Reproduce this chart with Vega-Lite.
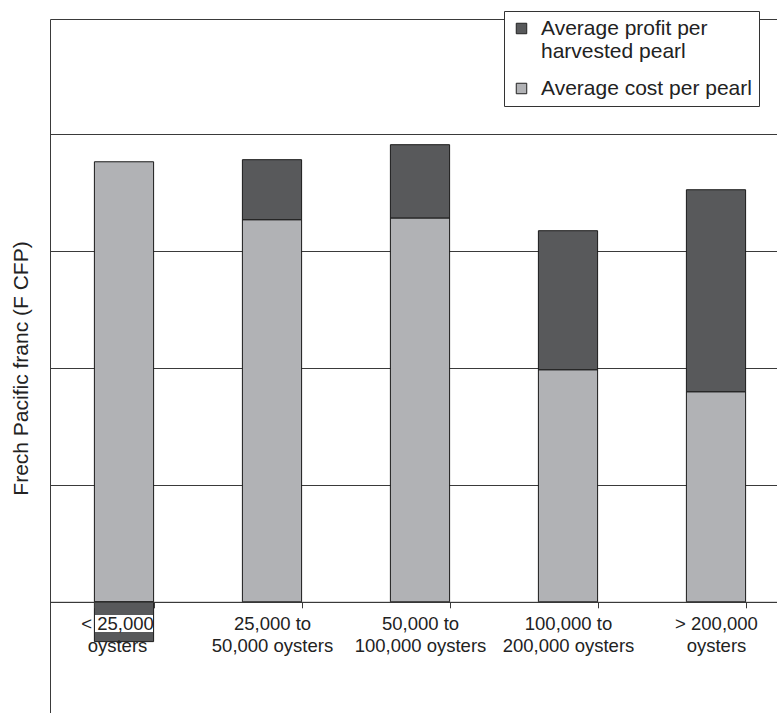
{
  "$schema": "https://vega.github.io/schema/vega-lite/v6.json",
  "description": "Average cost and profit per pearl by farm size.",
  "autosize": "none",
  "width": 740,
  "height": 694,
  "padding": {"left": 50, "top": 19, "right": 0, "bottom": 0},
  "background": "white",
  "view": {"stroke": null},
  "config": {
    "font": "Liberation Sans",
    "axis": {"labelColor": "#222", "titleColor": "#222", "domainColor": "#3a3a3a", "tickColor": "#3a3a3a", "gridColor": "#3a3a3a", "gridOpacity": 1}
  },
  "data": {
    "values": [
      {"farm": "< 25,000 oysters", "series": "Average cost per pearl", "layer": 1, "value": 3760},
      {"farm": "< 25,000 oysters", "series": "Average profit per harvested pearl", "layer": 2, "value": -340},
      {"farm": "25,000 to 50,000 oysters", "series": "Average cost per pearl", "layer": 1, "value": 3265},
      {"farm": "25,000 to 50,000 oysters", "series": "Average profit per harvested pearl", "layer": 2, "value": 513},
      {"farm": "50,000 to 100,000 oysters", "series": "Average cost per pearl", "layer": 1, "value": 3280},
      {"farm": "50,000 to 100,000 oysters", "series": "Average profit per harvested pearl", "layer": 2, "value": 626},
      {"farm": "100,000 to 200,000 oysters", "series": "Average cost per pearl", "layer": 1, "value": 1983},
      {"farm": "100,000 to 200,000 oysters", "series": "Average profit per harvested pearl", "layer": 2, "value": 1188},
      {"farm": "> 200,000 oysters", "series": "Average cost per pearl", "layer": 1, "value": 1795},
      {"farm": "> 200,000 oysters", "series": "Average profit per harvested pearl", "layer": 2, "value": 1726}
    ]
  },
  "layer": [
    {
      "mark": {"type": "bar", "stroke": "#1a1a1a", "strokeWidth": 1},
      "encoding": {
        "x": {
          "field": "farm",
          "type": "nominal",
          "sort": null,
          "scale": {"paddingInner": 0.6, "paddingOuter": 0.3},
          "axis": {
            "title": null,
            "orient": "bottom",
            "offset": -111.2,
            "zindex": 1,
            "labelAngle": 0,
            "labelFontSize": 18.5,
            "labelLineHeight": 22,
            "labelPadding": 7,
            "labelOffset": {"condition": {"test": "datum.value == '< 25,000 oysters'", "value": -7}, "value": 0},
            "tickBand": "extent",
            "tickSize": 6,
            "labelExpr": "datum.label == '< 25,000 oysters' ? ['< 25,000', 'oysters'] : datum.label == '25,000 to 50,000 oysters' ? ['25,000 to', '50,000 oysters'] : datum.label == '50,000 to 100,000 oysters' ? ['50,000 to', '100,000 oysters'] : datum.label == '100,000 to 200,000 oysters' ? ['100,000 to', '200,000 oysters'] : datum.label == '> 200,000 oysters' ? ['> 200,000', 'oysters'] : datum.label"
          }
        },
        "y": {
          "field": "value",
          "type": "quantitative",
          "stack": "zero",
          "scale": {"domain": [-950, 4980], "nice": false, "zero": false},
          "axis": {
            "title": "Frech Pacific franc (F CFP)",
            "titleFontSize": 21,
            "titleFontWeight": "normal",
            "titleX": -19,
            "titleY": 349,
            "labels": false,
            "ticks": false,
            "grid": true,
            "values": [0, 1000, 2000, 3000, 4000, 4980]
          }
        },
        "color": {
          "field": "series",
          "type": "nominal",
          "scale": {
            "domain": ["Average profit per harvested pearl", "Average cost per pearl"],
            "range": ["#58595b", "#b1b2b5"]
          },
          "legend": {
            "title": null,
            "orient": "none",
            "legendX": 454,
            "legendY": -8,
            "fillColor": "white",
            "strokeColor": "#333",
            "padding": 7,
            "symbolType": "square",
            "symbolSize": 110,
            "symbolStrokeColor": "#222",
            "symbolStrokeWidth": 1,
            "symbolOpacity": 1,
            "labelFontSize": 21,
            "labelColor": "#222",
            "labelLimit": 400,
            "labelOffset": 9,
            "rowPadding": 15,
            "labelExpr": "datum.label == 'Average profit per harvested pearl' ? ['Average profit per', 'harvested pearl'] : datum.label"
          }
        },
        "order": {"field": "layer", "type": "quantitative"}
      }
    },
    {
      "mark": {"type": "bar", "fill": "white", "width": 57},
      "encoding": {
        "x": {"datum": "< 25,000 oysters"},
        "y": {"datum": -114},
        "y2": {"datum": -256}
      }
    }
  ]
}
